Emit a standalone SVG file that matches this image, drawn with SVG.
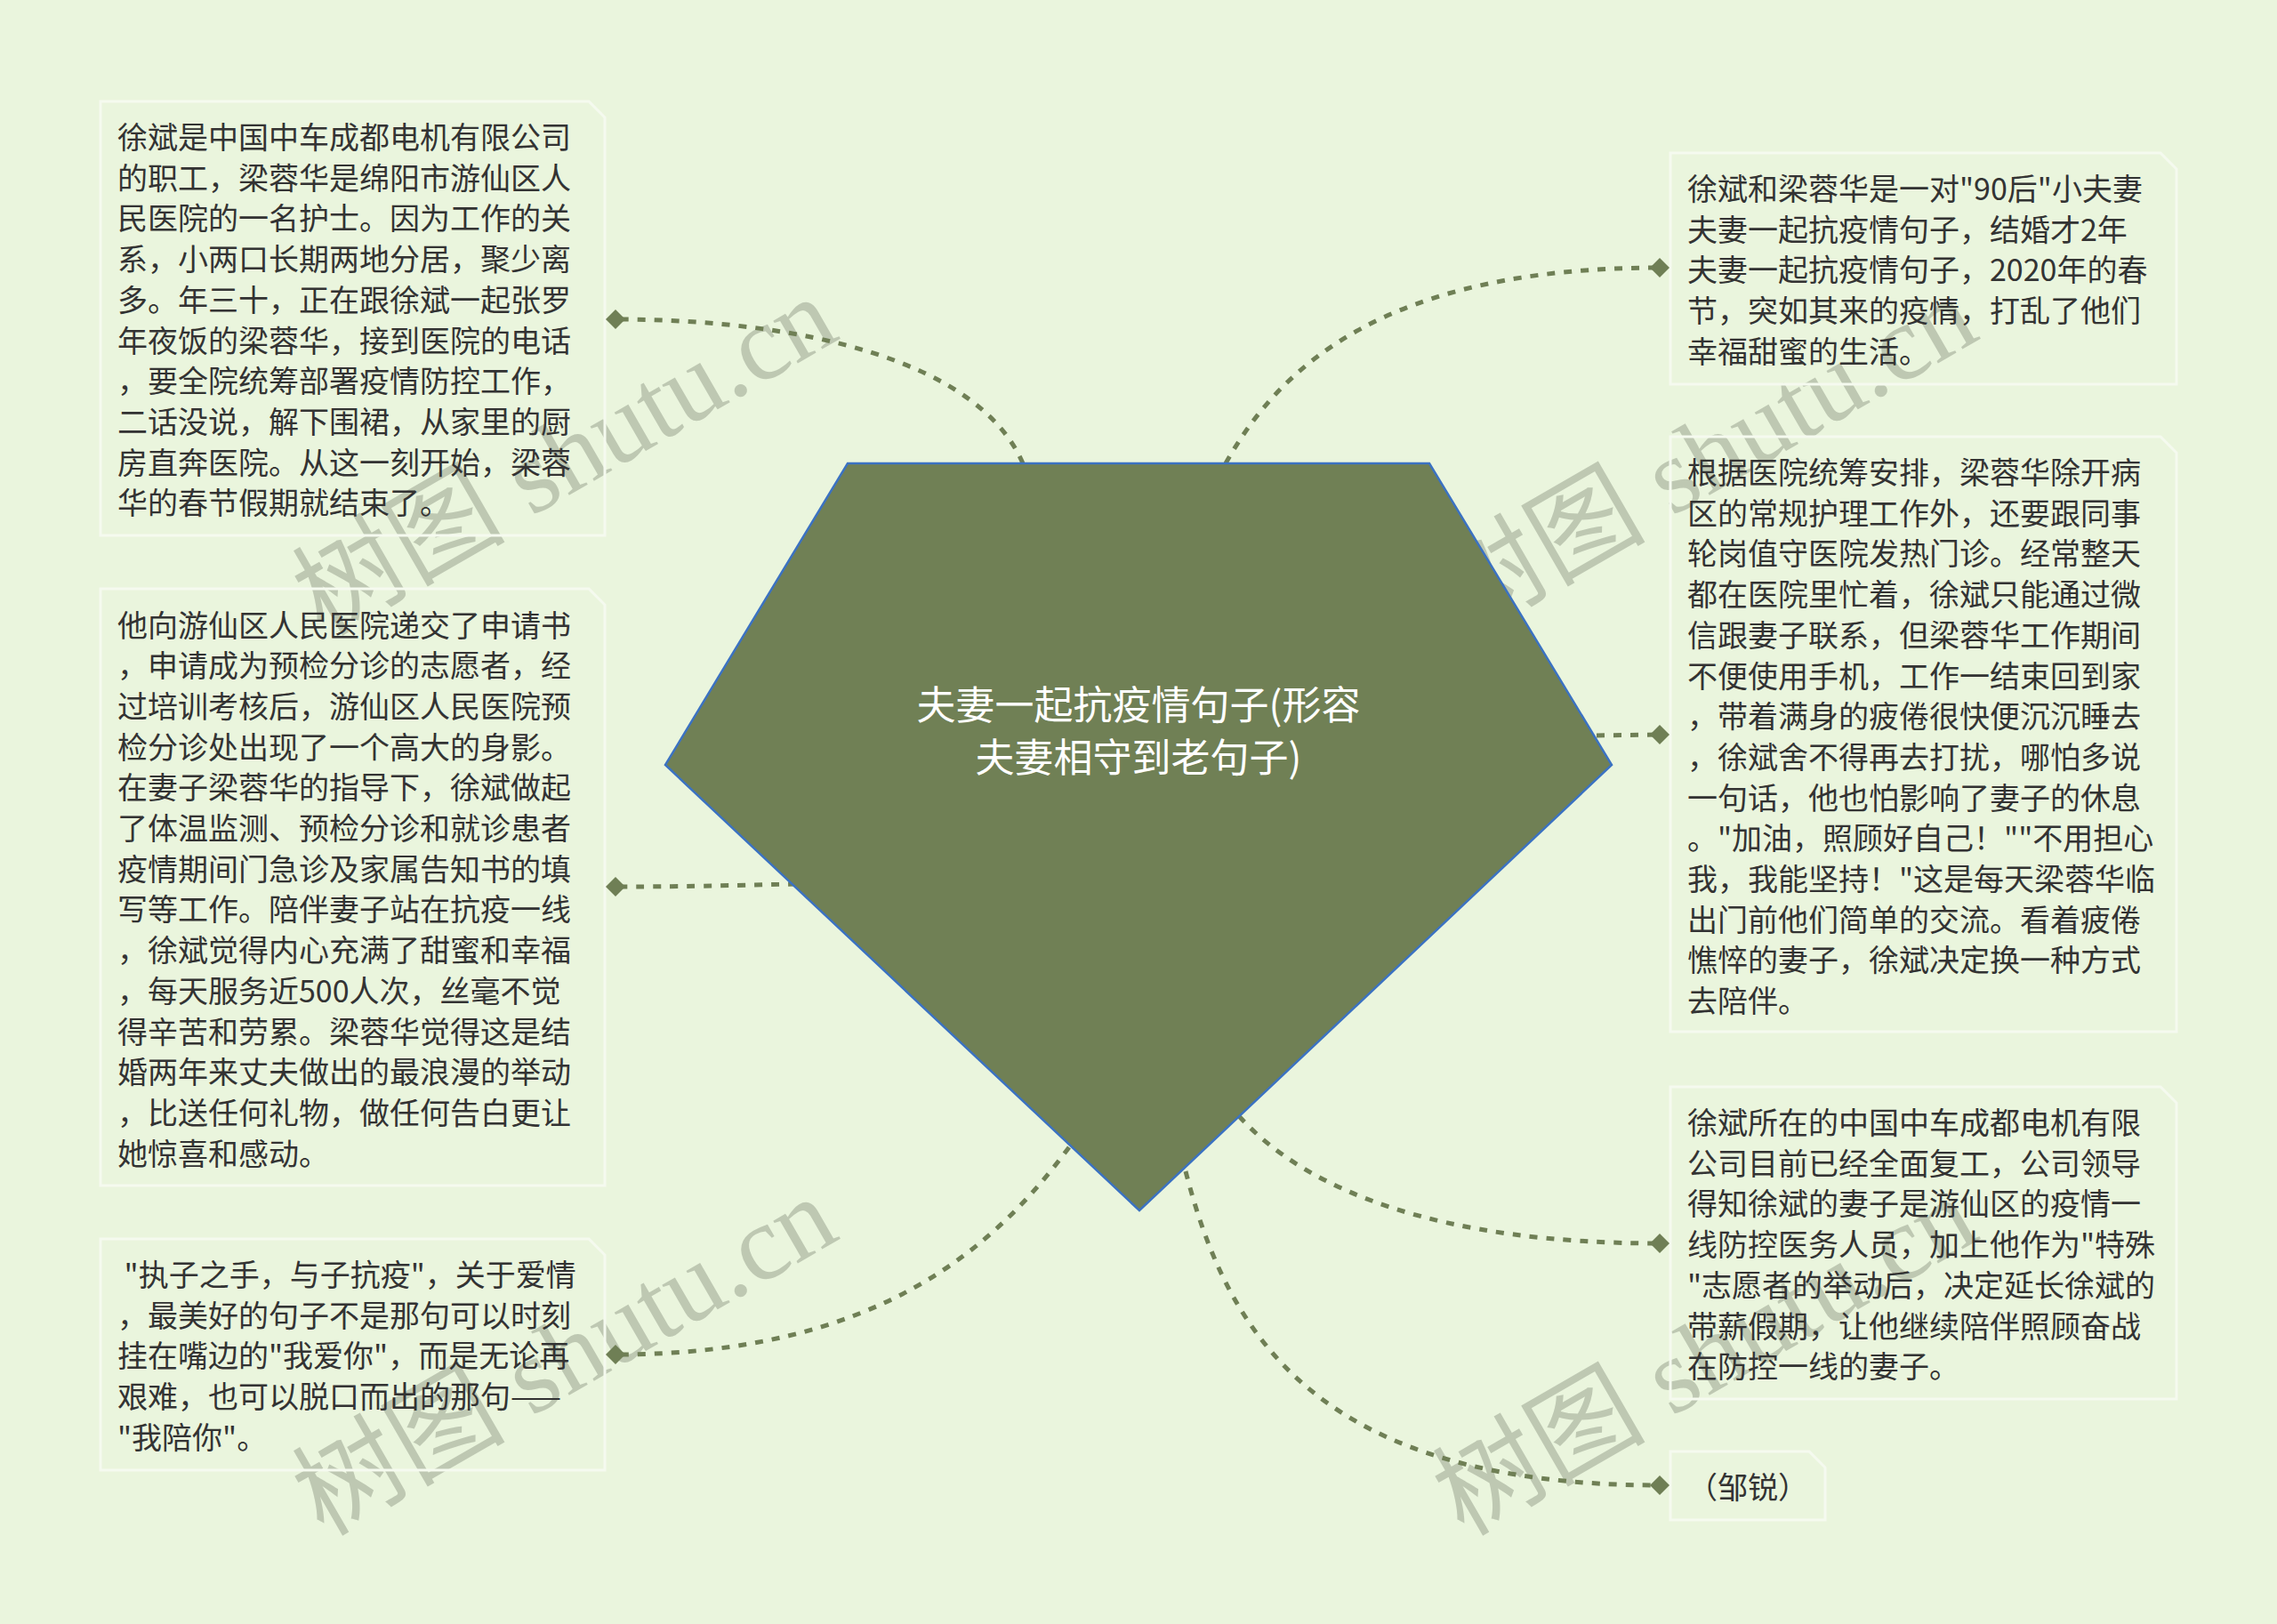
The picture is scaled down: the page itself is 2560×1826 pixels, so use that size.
<svg xmlns="http://www.w3.org/2000/svg" width="2560" height="1826" viewBox="0 0 2560 1826">
<defs>
<style>
.bg{fill:#eaf5dd}
.wm{font-family:"Liberation Serif","Noto Sans CJK SC",serif;font-size:120px;fill:#939c89;opacity:0.5}
.conn{fill:none;stroke:#6f7f55;stroke-width:5;stroke-dasharray:9 10}
.dot{fill:#6f7f55}
.box{fill:none;stroke:#f5faef;stroke-width:3}
.t{font-family:"Noto Sans CJK SC","Noto Sans",sans-serif;font-size:34px;fill:#333333}
.title{font-family:"Noto Sans CJK SC","Noto Sans",sans-serif;font-size:44px;fill:#ffffff;text-anchor:middle}
.root{fill:#708055;stroke:#3b72c2;stroke-width:2.5}
</style>
<path id="dm" d="M0,-11 L11,0 L0,11 L-11,0 Z"/>
</defs>
<rect class="bg" x="0" y="0" width="2560" height="1826"/>
<g id="watermarks">
<text class="wm" text-anchor="middle" transform="translate(655,548) rotate(-30)">树图 shutu.cn</text>
<text class="wm" text-anchor="middle" transform="translate(655,1560) rotate(-30)">树图 shutu.cn</text>
<text class="wm" text-anchor="middle" transform="translate(1937,548) rotate(-30)">树图 shutu.cn</text>
<text class="wm" text-anchor="middle" transform="translate(1937,1560) rotate(-30)">树图 shutu.cn</text>
</g>
<g id="connectors">
<path class="conn" d="M1150,521 C1100,405 900,359 692,359"/>
<path class="conn" d="M895,994 C840,995 780,997 692,997"/>
<path class="conn" d="M1202,1290 C1120,1400 990,1523 692,1523"/>
<path class="conn" d="M1378,521 C1440,410 1560,301 1866,301"/>
<path class="conn" d="M1795,827 L1866,826"/>
<path class="conn" d="M1393,1255 C1470,1340 1620,1398 1866,1398"/>
<path class="conn" d="M1333,1317 C1380,1500 1480,1670 1866,1670"/>
</g>
<g id="root">
<polygon class="root" points="953,521 1607,521 1812,860 1281,1361 748,860"/>
<text class="title"><tspan x="1280" y="809">夫妻一起抗疫情句子(形容</tspan><tspan x="1280" y="868">夫妻相守到老句子)</tspan></text>
</g>
<g id="node-l1">
<path class="box" d="M113,114 H662 L680,132 V602 H113 Z"/>
<use href="#dm" class="dot" x="692" y="359"/>
<text class="t"><tspan x="132" y="167">徐斌是中国中车成都电机有限公司</tspan><tspan x="132" y="212.7">的职工，梁蓉华是绵阳市游仙区人</tspan><tspan x="132" y="258.4">民医院的一名护士。因为工作的关</tspan><tspan x="132" y="304.1">系，小两口长期两地分居，聚少离</tspan><tspan x="132" y="349.8">多。年三十，正在跟徐斌一起张罗</tspan><tspan x="132" y="395.5">年夜饭的梁蓉华，接到医院的电话</tspan><tspan x="132" y="441.2">，要全院统筹部署疫情防控工作，</tspan><tspan x="132" y="486.9">二话没说，解下围裙，从家里的厨</tspan><tspan x="132" y="532.6">房直奔医院。从这一刻开始，梁蓉</tspan><tspan x="132" y="578.3">华的春节假期就结束了。</tspan></text>
</g>
<g id="node-l2">
<path class="box" d="M113,662 H662 L680,680 V1333 H113 Z"/>
<use href="#dm" class="dot" x="692" y="997"/>
<text class="t"><tspan x="132" y="715.5">他向游仙区人民医院递交了申请书</tspan><tspan x="132" y="761.2">，申请成为预检分诊的志愿者，经</tspan><tspan x="132" y="806.9">过培训考核后，游仙区人民医院预</tspan><tspan x="132" y="852.6">检分诊处出现了一个高大的身影。</tspan><tspan x="132" y="898.3">在妻子梁蓉华的指导下，徐斌做起</tspan><tspan x="132" y="944">了体温监测、预检分诊和就诊患者</tspan><tspan x="132" y="989.7">疫情期间门急诊及家属告知书的填</tspan><tspan x="132" y="1035.4">写等工作。陪伴妻子站在抗疫一线</tspan><tspan x="132" y="1081.1">，徐斌觉得内心充满了甜蜜和幸福</tspan><tspan x="132" y="1126.8">，每天服务近500人次，丝毫不觉</tspan><tspan x="132" y="1172.5">得辛苦和劳累。梁蓉华觉得这是结</tspan><tspan x="132" y="1218.2">婚两年来丈夫做出的最浪漫的举动</tspan><tspan x="132" y="1263.9">，比送任何礼物，做任何告白更让</tspan><tspan x="132" y="1309.6">她惊喜和感动。</tspan></text>
</g>
<g id="node-l3">
<path class="box" d="M113,1393 H662 L680,1411 V1653 H113 Z"/>
<use href="#dm" class="dot" x="692" y="1523"/>
<text class="t" xml:space="preserve"><tspan x="132" y="1446"> "执子之手，与子抗疫"，关于爱情</tspan><tspan x="132" y="1491.7">，最美好的句子不是那句可以时刻</tspan><tspan x="132" y="1537.4">挂在嘴边的"我爱你"，而是无论再</tspan><tspan x="132" y="1583.1">艰难，也可以脱口而出的那句——</tspan><tspan x="132" y="1628.8">"我陪你"。</tspan></text>
</g>
<g id="node-r1">
<path class="box" d="M1878,172 H2429 L2447,190 V432 H1878 Z"/>
<use href="#dm" class="dot" x="1866" y="301"/>
<text class="t"><tspan x="1897" y="225">徐斌和梁蓉华是一对"90后"小夫妻</tspan><tspan x="1897" y="270.7">夫妻一起抗疫情句子，结婚才2年</tspan><tspan x="1897" y="316.4">夫妻一起抗疫情句子，2020年的春</tspan><tspan x="1897" y="362.1">节，突如其来的疫情，打乱了他们</tspan><tspan x="1897" y="407.8">幸福甜蜜的生活。</tspan></text>
</g>
<g id="node-r2">
<path class="box" d="M1878,491 H2429 L2447,509 V1160 H1878 Z"/>
<use href="#dm" class="dot" x="1866" y="826"/>
<text class="t"><tspan x="1897" y="544">根据医院统筹安排，梁蓉华除开病</tspan><tspan x="1897" y="589.7">区的常规护理工作外，还要跟同事</tspan><tspan x="1897" y="635.4">轮岗值守医院发热门诊。经常整天</tspan><tspan x="1897" y="681.1">都在医院里忙着，徐斌只能通过微</tspan><tspan x="1897" y="726.8">信跟妻子联系，但梁蓉华工作期间</tspan><tspan x="1897" y="772.5">不便使用手机，工作一结束回到家</tspan><tspan x="1897" y="818.2">，带着满身的疲倦很快便沉沉睡去</tspan><tspan x="1897" y="863.9">，徐斌舍不得再去打扰，哪怕多说</tspan><tspan x="1897" y="909.6">一句话，他也怕影响了妻子的休息</tspan><tspan x="1897" y="955.3">。"加油，照顾好自己！""不用担心</tspan><tspan x="1897" y="1001">我，我能坚持！"这是每天梁蓉华临</tspan><tspan x="1897" y="1046.7">出门前他们简单的交流。看着疲倦</tspan><tspan x="1897" y="1092.4">憔悴的妻子，徐斌决定换一种方式</tspan><tspan x="1897" y="1138.1">去陪伴。</tspan></text>
</g>
<g id="node-r3">
<path class="box" d="M1878,1222 H2429 L2447,1240 V1573 H1878 Z"/>
<use href="#dm" class="dot" x="1866" y="1398"/>
<text class="t"><tspan x="1897" y="1275">徐斌所在的中国中车成都电机有限</tspan><tspan x="1897" y="1320.7">公司目前已经全面复工，公司领导</tspan><tspan x="1897" y="1366.4">得知徐斌的妻子是游仙区的疫情一</tspan><tspan x="1897" y="1412.1">线防控医务人员，加上他作为"特殊</tspan><tspan x="1897" y="1457.8">"志愿者的举动后，决定延长徐斌的</tspan><tspan x="1897" y="1503.5">带薪假期，让他继续陪伴照顾奋战</tspan><tspan x="1897" y="1549.2">在防控一线的妻子。</tspan></text>
</g>
<g id="node-r4">
<path class="box" d="M1878,1632 H2034 L2052,1650 V1709 H1878 Z"/>
<use href="#dm" class="dot" x="1866" y="1670"/>
<text class="t"><tspan x="1897" y="1685">（邹锐）</tspan></text>
</g>
</svg>
